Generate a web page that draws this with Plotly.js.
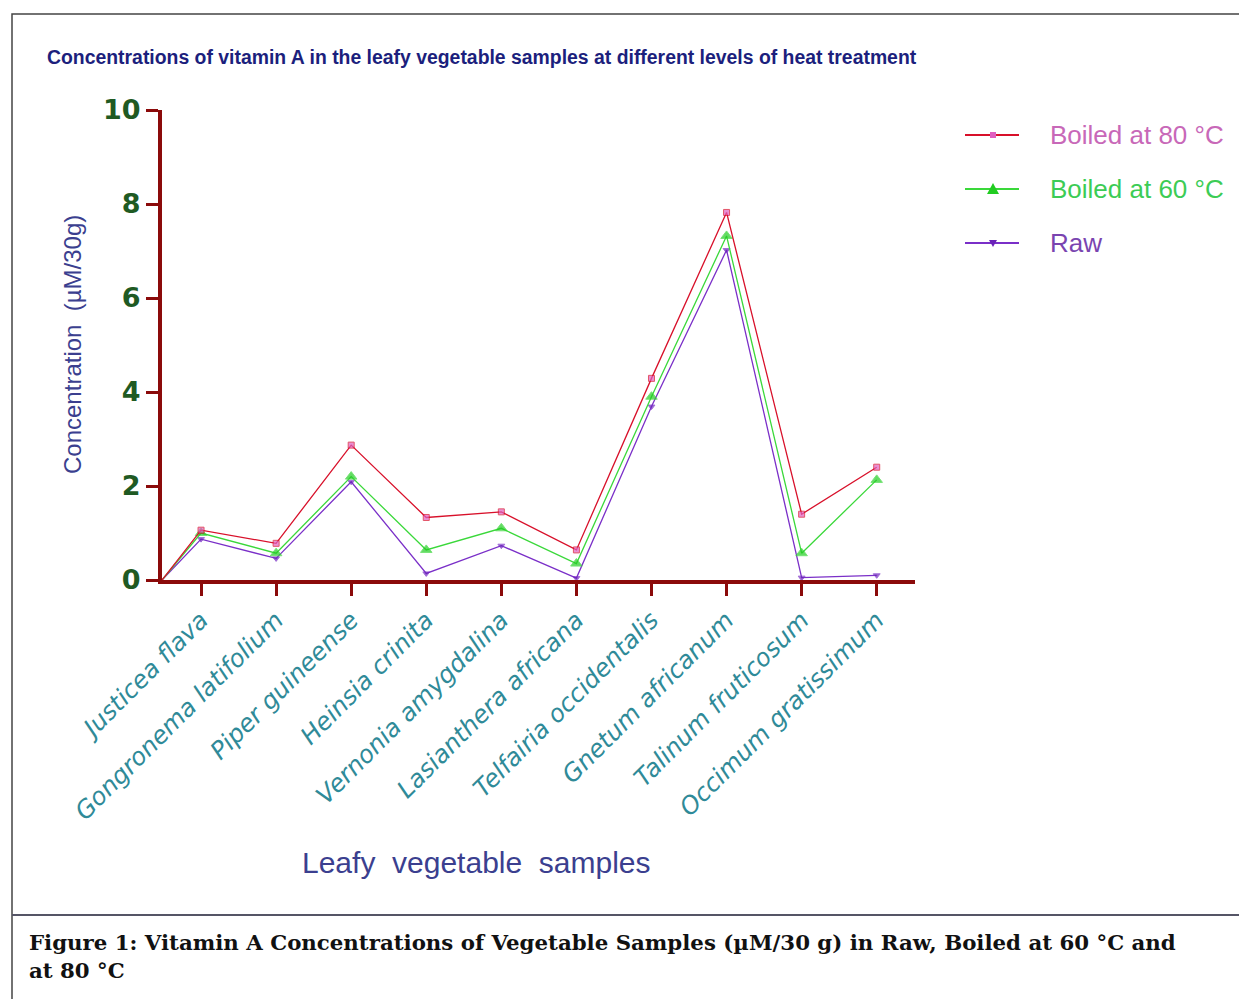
<!DOCTYPE html>
<html>
<head>
<meta charset="utf-8">
<script src="https://cdn.plot.ly/plotly-3.0.1.min.js"></script>
<style>html,body{margin:0;padding:0;background:#fff;}#chart{width:1239px;height:999px;}</style>
</head>
<body>
<div id="chart"></div>
<script>
const categories = ["Justicea flava", "Gongronema latifolium", "Piper guineense", "Heinsia crinita",
  "Vernonia amygdalina", "Lasianthera africana", "Telfairia occidentalis", "Gnetum africanum",
  "Talinum fruticosum", "Occimum gratissimum"];
const boiled80 = [1.06, 0.78, 2.87, 1.33, 1.45, 0.64, 4.29, 7.82, 1.40, 2.40];
const boiled60 = [1.00, 0.57, 2.20, 0.64, 1.10, 0.35, 3.90, 7.32, 0.57, 2.13];
const raw      = [0.87, 0.46, 2.09, 0.14, 0.73, 0.04, 3.69, 7.02, 0.05, 0.10];
const seriesNames = ["Boiled at 80 °C", "Boiled at 60 °C", "Raw"];
const yTickVals = [0, 2, 4, 6, 8, 10];

// Layout constants
const L = 162, R = 915, T = 110, B = 580, W = 1239, H = 999;
const xRange = [-0.52, 9.51];
const px = v => (v - L) / (R - L);
const py = v => (B - v) / (B - T);

const idx = categories.map((_, i) => i);
// Prism-style: each line starts at the axis origin (value 0)
const xs = [xRange[0]].concat(idx);
const withStart = arr => [0].concat(arr);

const colors = {
  r80: {line: '#d8102a', marker: '#e060c0', text: '#c868b8'},
  r60: {line: '#3ad83a', marker: '#22cc22', text: '#3ccc55'},
  raw: {line: '#7a2fc8', marker: '#6a22b8', text: '#7a44b0'}
};

function trace(name, vals, c, symbol, size) {
  return {
    type: 'scatter', mode: 'lines+markers', name: name,
    x: xs, y: withStart(vals),
    line: {color: c.line, width: 1.3},
    marker: {color: c.marker, symbol: symbol, size: withStart(vals).map((_, i) => i === 0 ? 0 : size)},
    cliponaxis: false
  };
}

const data = [
  trace(seriesNames[2], raw, colors.raw, 'triangle-down', 6),
  trace(seriesNames[1], boiled60, colors.r60, 'triangle-up', 10),
  trace(seriesNames[0], boiled80, colors.r80, 'square', 6)
];

// legend glyph helpers (pixel -> paper path)
function pathFrom(points) {
  return points.map((p, i) => (i ? 'L' : 'M') + px(p[0]).toFixed(5) + ',' + py(p[1]).toFixed(5)).join(' ') + ' Z';
}
const legendY = [135, 189, 243];
const lgX0 = 965, lgX1 = 1019, lgC = 993;

const axisColor = '#8b0a0a';
const sansFont = 'Arial, Liberation Sans, sans-serif';
const layout = {
  width: W, height: H,
  margin: {l: L, r: W - R, t: T, b: H - B, pad: 0},
  paper_bgcolor: '#fff', plot_bgcolor: '#fff',
  showlegend: false,
  xaxis: {
    range: xRange, tickvals: idx, ticktext: categories.map(c => '<i>' + c + '</i>'),
    tickangle: -45, ticks: 'outside', ticklen: 12, tickwidth: 3, tickcolor: axisColor,
    showline: true, linecolor: axisColor, linewidth: 4, showgrid: false, zeroline: false,
    tickfont: {family: 'DejaVu Sans', size: 24.5, color: '#2f8a98'}
  },
  yaxis: {
    range: [0, 10], tickvals: yTickVals, ticks: 'outside', ticklen: 12, tickwidth: 3, tickcolor: axisColor,
    showline: true, linecolor: axisColor, linewidth: 4, showgrid: false, zeroline: false,
    tickfont: {family: 'DejaVu Sans', size: 27, color: '#1f5a23', weight: 'bold'}
  },
  annotations: [
    {xref: 'paper', yref: 'paper', x: px(45), y: py(57), xanchor: 'left', yanchor: 'middle', showarrow: false,
     text: 'Concentrations of vitamin A in the leafy vegetable samples at different levels of heat treatment',
     font: {family: sansFont, size: 19.4, color: '#1c1f7d', weight: 'bold'}},
    {xref: 'paper', yref: 'paper', x: px(72), y: 0.5, xanchor: 'center', yanchor: 'middle', showarrow: false,
     textangle: -90, text: 'Concentration  (µM/30g)',
     font: {family: sansFont, size: 24, color: '#3b3f8f'}},
    {xref: 'paper', yref: 'paper', x: px(476), y: py(862), xanchor: 'center', yanchor: 'middle', showarrow: false,
     text: 'Leafy  vegetable  samples',
     font: {family: sansFont, size: 30, color: '#3b3f8f'}},
    {xref: 'paper', yref: 'paper', x: px(1048), y: py(legendY[0]), xanchor: 'left', yanchor: 'middle', showarrow: false,
     text: seriesNames[0], font: {family: sansFont, size: 26, color: colors.r80.text}},
    {xref: 'paper', yref: 'paper', x: px(1048), y: py(legendY[1]), xanchor: 'left', yanchor: 'middle', showarrow: false,
     text: seriesNames[1], font: {family: sansFont, size: 26, color: colors.r60.text}},
    {xref: 'paper', yref: 'paper', x: px(1048), y: py(legendY[2]), xanchor: 'left', yanchor: 'middle', showarrow: false,
     text: seriesNames[2], font: {family: sansFont, size: 26, color: colors.raw.text}},
    {xref: 'paper', yref: 'paper', x: px(27), y: py(928), xanchor: 'left', yanchor: 'top', showarrow: false, align: 'left',
     text: '<b>Figure 1: Vitamin A Concentrations of Vegetable Samples (µM/30 g) in Raw, Boiled at 60 °C and<br>at 80 °C</b>',
     font: {family: 'DejaVu Serif, serif', size: 21.3, color: '#111'}}
  ],
  shapes: [
    // figure frame
    {type: 'rect', xref: 'paper', yref: 'paper', x0: px(12), x1: px(1250), y0: py(1010), y1: py(14),
     line: {color: '#444', width: 1.5}, fillcolor: 'rgba(0,0,0,0)'},
    {type: 'line', xref: 'paper', yref: 'paper', x0: px(12), x1: px(1250), y0: py(915), y1: py(915),
     line: {color: '#555566', width: 2}},
    // legend samples
    {type: 'line', xref: 'paper', yref: 'paper', x0: px(lgX0), x1: px(lgX1), y0: py(legendY[0]), y1: py(legendY[0]), line: {color: colors.r80.line, width: 2}},
    {type: 'line', xref: 'paper', yref: 'paper', x0: px(lgX0), x1: px(lgX1), y0: py(legendY[1]), y1: py(legendY[1]), line: {color: colors.r60.line, width: 2}},
    {type: 'line', xref: 'paper', yref: 'paper', x0: px(lgX0), x1: px(lgX1), y0: py(legendY[2]), y1: py(legendY[2]), line: {color: colors.raw.line, width: 2}},
    {type: 'path', xref: 'paper', yref: 'paper', line: {width: 0}, fillcolor: colors.r80.marker,
     path: pathFrom([[lgC - 3, legendY[0] - 3], [lgC + 3, legendY[0] - 3], [lgC + 3, legendY[0] + 3], [lgC - 3, legendY[0] + 3]])},
    {type: 'path', xref: 'paper', yref: 'paper', line: {width: 0}, fillcolor: colors.r60.marker,
     path: pathFrom([[lgC, legendY[1] - 6], [lgC + 6, legendY[1] + 5], [lgC - 6, legendY[1] + 5]])},
    {type: 'path', xref: 'paper', yref: 'paper', line: {width: 0}, fillcolor: colors.raw.marker,
     path: pathFrom([[lgC - 4, legendY[2] - 3], [lgC + 4, legendY[2] - 3], [lgC, legendY[2] + 4]])}
  ]
};

Plotly.newPlot('chart', data, layout, {staticPlot: true});
</script>
</body>
</html>
